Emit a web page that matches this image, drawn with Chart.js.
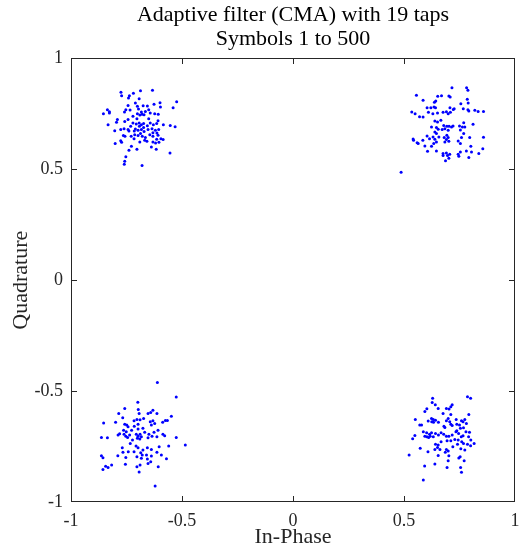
<!DOCTYPE html>
<html>
<head>
<meta charset="utf-8">
<script src="https://cdn.jsdelivr.net/npm/chart.js@4.4.1/dist/chart.umd.min.js"></script>
<style>
  html, body { margin: 0; padding: 0; background: #fff; }
  #wrap { width: 519px; height: 552px; }
</style>
</head>
<body>
<div id="wrap"><canvas id="scatter" width="519" height="552"></canvas></div>
<script>
// received symbols after the CMA equaliser (I, Q)
const upperLeft = [
    [-0.775,0.847],[-0.772,0.832],[-0.737,0.832],[-0.741,0.821],[-0.719,0.843],
    [-0.687,0.854],[-0.633,0.856],[-0.693,0.818],[-0.599,0.800],[-0.524,0.805],
    [-0.540,0.778],[-0.597,0.781],[-0.626,0.793],[-0.656,0.785],[-0.675,0.787],
    [-0.710,0.799],[-0.701,0.784],[-0.696,0.772],[-0.743,0.788],[-0.753,0.769],
    [-0.759,0.758],[-0.836,0.769],[-0.827,0.760],[-0.854,0.751],[-0.827,0.754],
    [-0.701,0.751],[-0.690,0.745],[-0.680,0.748],[-0.671,0.746],[-0.683,0.758],
    [-0.643,0.754],[-0.623,0.751],[-0.607,0.748],[-0.665,0.761],[-0.650,0.769],
    [-0.703,0.728],[-0.743,0.724],[-0.791,0.725],[-0.795,0.712],[-0.758,0.715],
    [-0.833,0.701],[-0.721,0.709],[-0.706,0.704],[-0.693,0.709],[-0.683,0.701],
    [-0.673,0.706],[-0.692,0.694],[-0.656,0.696],[-0.643,0.709],[-0.629,0.701],
    [-0.614,0.707],[-0.584,0.701],[-0.553,0.698],[-0.531,0.692],[-0.803,0.674],
    [-0.776,0.680],[-0.761,0.683],[-0.743,0.680],[-0.739,0.673],[-0.731,0.694],
    [-0.710,0.682],[-0.698,0.676],[-0.683,0.679],[-0.671,0.670],[-0.653,0.679],
    [-0.635,0.683],[-0.620,0.676],[-0.605,0.680],[-0.631,0.665],[-0.613,0.664],
    [-0.713,0.656],[-0.698,0.652],[-0.687,0.661],[-0.679,0.649],[-0.665,0.643],
    [-0.645,0.656],[-0.631,0.649],[-0.608,0.653],[-0.595,0.638],[-0.585,0.634],
    [-0.764,0.652],[-0.757,0.649],[-0.729,0.649],[-0.776,0.629],[-0.772,0.622],
    [-0.801,0.616],[-0.690,0.623],[-0.668,0.631],[-0.631,0.623],[-0.619,0.619],
    [-0.604,0.622],[-0.728,0.604],[-0.703,0.590],[-0.739,0.586],[-0.638,0.601],
    [-0.616,0.590],[-0.554,0.574],[-0.753,0.557],[-0.758,0.536],[-0.760,0.523],
    [-0.680,0.517],[-0.716,0.638],[-0.658,0.626],[-0.614,0.635],[-0.673,0.688],
    [-0.715,0.673],[-0.608,0.719],[-0.734,0.767],[-0.721,0.739],[-0.650,0.728],
];
const upperRight = [
    [0.716,0.868],[0.782,0.868],[0.788,0.856],[0.556,0.834],[0.586,0.811],
    [0.652,0.829],[0.669,0.832],[0.702,0.831],[0.708,0.826],[0.785,0.816],
    [0.643,0.808],[0.637,0.802],[0.756,0.796],[0.789,0.799],[0.604,0.778],
    [0.621,0.778],[0.635,0.781],[0.642,0.778],[0.707,0.777],[0.722,0.770],
    [0.726,0.773],[0.767,0.773],[0.788,0.769],[0.792,0.763],[0.819,0.766],
    [0.834,0.761],[0.858,0.761],[0.535,0.758],[0.550,0.751],[0.610,0.757],
    [0.630,0.751],[0.651,0.754],[0.676,0.757],[0.691,0.760],[0.699,0.751],
    [0.709,0.757],[0.570,0.737],[0.586,0.736],[0.639,0.718],[0.651,0.713],
    [0.624,0.691],[0.646,0.688],[0.679,0.697],[0.693,0.694],[0.703,0.694],
    [0.714,0.691],[0.721,0.695],[0.750,0.695],[0.763,0.691],[0.774,0.691],
    [0.811,0.703],[0.654,0.681],[0.684,0.683],[0.699,0.676],[0.754,0.677],
    [0.639,0.668],[0.646,0.661],[0.604,0.650],[0.769,0.661],[0.541,0.637],
    [0.543,0.631],[0.559,0.620],[0.564,0.616],[0.585,0.631],[0.615,0.638],
    [0.631,0.646],[0.639,0.635],[0.646,0.623],[0.634,0.616],[0.681,0.643],
    [0.691,0.634],[0.699,0.643],[0.684,0.623],[0.702,0.626],[0.693,0.653],
    [0.744,0.628],[0.759,0.643],[0.796,0.643],[0.858,0.644],[0.754,0.616],
    [0.624,0.604],[0.594,0.605],[0.606,0.581],[0.646,0.583],[0.676,0.571],
    [0.691,0.574],[0.696,0.562],[0.676,0.562],[0.706,0.568],[0.744,0.568],
    [0.754,0.578],[0.781,0.583],[0.804,0.578],[0.801,0.604],[0.855,0.593],
    [0.837,0.571],[0.792,0.553],[0.747,0.559],[0.702,0.550],[0.687,0.538],
    [0.487,0.487],[0.666,0.721],[0.769,0.710],[0.657,0.646],[0.672,0.679],
];
const lowerLeft = [
    [-0.611,-0.461],[-0.526,-0.527],[-0.699,-0.550],[-0.758,-0.578],[-0.697,-0.583],
    [-0.693,-0.601],[-0.785,-0.601],[-0.653,-0.601],[-0.641,-0.596],[-0.631,-0.586],
    [-0.613,-0.601],[-0.548,-0.613],[-0.767,-0.620],[-0.716,-0.634],[-0.703,-0.628],
    [-0.689,-0.629],[-0.673,-0.623],[-0.643,-0.638],[-0.631,-0.634],[-0.623,-0.646],
    [-0.587,-0.641],[-0.575,-0.632],[-0.566,-0.632],[-0.853,-0.644],[-0.799,-0.641],
    [-0.758,-0.649],[-0.749,-0.653],[-0.743,-0.661],[-0.698,-0.650],[-0.638,-0.653],
    [-0.608,-0.676],[-0.763,-0.676],[-0.751,-0.683],[-0.727,-0.676],[-0.698,-0.671],
    [-0.788,-0.698],[-0.781,-0.692],[-0.761,-0.695],[-0.753,-0.703],[-0.745,-0.709],
    [-0.736,-0.698],[-0.706,-0.694],[-0.698,-0.703],[-0.689,-0.695],[-0.683,-0.706],
    [-0.668,-0.686],[-0.649,-0.695],[-0.635,-0.703],[-0.626,-0.686],[-0.613,-0.706],
    [-0.586,-0.695],[-0.578,-0.701],[-0.863,-0.709],[-0.836,-0.710],[-0.526,-0.709],
    [-0.701,-0.713],[-0.690,-0.716],[-0.653,-0.710],[-0.723,-0.721],[-0.733,-0.736],
    [-0.769,-0.755],[-0.742,-0.773],[-0.707,-0.748],[-0.698,-0.755],[-0.676,-0.766],
    [-0.656,-0.755],[-0.638,-0.763],[-0.603,-0.751],[-0.560,-0.748],[-0.485,-0.743],
    [-0.766,-0.776],[-0.716,-0.773],[-0.686,-0.778],[-0.660,-0.788],[-0.638,-0.793],
    [-0.613,-0.776],[-0.593,-0.788],[-0.789,-0.791],[-0.753,-0.799],[-0.863,-0.791],
    [-0.856,-0.800],[-0.570,-0.805],[-0.703,-0.796],[-0.683,-0.803],[-0.656,-0.806],
    [-0.641,-0.818],[-0.817,-0.833],[-0.844,-0.839],[-0.856,-0.853],[-0.833,-0.845],
    [-0.755,-0.830],[-0.703,-0.841],[-0.689,-0.833],[-0.653,-0.826],[-0.607,-0.841],
    [-0.693,-0.865],[-0.621,-0.928],[-0.679,-0.788],[-0.715,-0.658],[-0.676,-0.668],
];
const lowerRight = [
    [0.629,-0.532],[0.786,-0.526],[0.800,-0.532],[0.627,-0.551],[0.641,-0.562],
    [0.717,-0.562],[0.711,-0.571],[0.603,-0.580],[0.654,-0.578],[0.691,-0.578],
    [0.703,-0.581],[0.594,-0.592],[0.676,-0.601],[0.711,-0.605],[0.792,-0.605],
    [0.551,-0.628],[0.624,-0.623],[0.632,-0.628],[0.642,-0.631],[0.625,-0.638],
    [0.633,-0.641],[0.609,-0.635],[0.655,-0.641],[0.691,-0.634],[0.699,-0.623],
    [0.706,-0.638],[0.735,-0.628],[0.759,-0.634],[0.766,-0.638],[0.774,-0.628],
    [0.781,-0.646],[0.571,-0.653],[0.579,-0.653],[0.711,-0.650],[0.717,-0.655],
    [0.738,-0.650],[0.750,-0.653],[0.680,-0.658],[0.684,-0.664],[0.754,-0.668],
    [0.768,-0.665],[0.587,-0.683],[0.602,-0.688],[0.615,-0.695],[0.624,-0.688],
    [0.549,-0.700],[0.539,-0.715],[0.594,-0.703],[0.603,-0.706],[0.611,-0.709],
    [0.618,-0.703],[0.632,-0.706],[0.642,-0.691],[0.655,-0.698],[0.667,-0.688],
    [0.679,-0.694],[0.691,-0.703],[0.702,-0.703],[0.717,-0.698],[0.734,-0.683],
    [0.738,-0.679],[0.746,-0.691],[0.758,-0.706],[0.766,-0.701],[0.779,-0.683],
    [0.795,-0.686],[0.791,-0.706],[0.694,-0.724],[0.711,-0.724],[0.729,-0.718],
    [0.744,-0.721],[0.760,-0.728],[0.768,-0.736],[0.786,-0.740],[0.741,-0.740],
    [0.816,-0.736],[0.800,-0.746],[0.642,-0.740],[0.654,-0.743],[0.651,-0.754],
    [0.639,-0.763],[0.662,-0.763],[0.691,-0.763],[0.699,-0.770],[0.686,-0.776],
    [0.720,-0.751],[0.756,-0.760],[0.774,-0.766],[0.573,-0.758],[0.608,-0.773],
    [0.654,-0.790],[0.523,-0.788],[0.702,-0.791],[0.699,-0.814],[0.747,-0.802],
    [0.753,-0.796],[0.771,-0.814],[0.639,-0.829],[0.593,-0.838],[0.694,-0.845],
    [0.755,-0.845],[0.759,-0.866],[0.587,-0.901],[0.667,-0.728],[0.801,-0.721],
];

const tickValues = [-1, -0.5, 0, 0.5, 1];
const tickLabels = ['-1', '-0.5', '0', '0.5', '1'];
const titleLines = ['Adaptive filter (CMA) with 19 taps', 'Symbols 1 to 500'];

const SERIF = "'Liberation Serif', 'Times New Roman', serif";
const INK = '#262626';
const TICK = 5;

// matlab style box with inward ticks on all four sides, sized from the scales
const axesBox = {
    id: 'axesBox',
    afterDraw(chart) {
        const { ctx, scales: { x, y } } = chart;
        const L = Math.round(x.getPixelForValue(-1)), R = Math.round(x.getPixelForValue(1));
        const T = Math.round(y.getPixelForValue(1)), B = Math.round(y.getPixelForValue(-1));
        const W = R - L, H = B - T;
        ctx.save();
        ctx.fillStyle = INK;
        ctx.fillRect(L, T, W, 1);
        ctx.fillRect(L, B - 1, W, 1);
        ctx.fillRect(L, T, 1, H);
        ctx.fillRect(R - 1, T, 1, H);
        tickValues.forEach(v => {
            const px = Math.min(Math.round(x.getPixelForValue(v)), R - 1);
            ctx.fillRect(px, B - 1 - TICK, 1, TICK);
            ctx.fillRect(px, T + 1, 1, TICK);
            const py = Math.min(Math.round(y.getPixelForValue(v)), B - 1);
            ctx.fillRect(L + 1, py, TICK, 1);
            ctx.fillRect(R - 1 - TICK, py, TICK, 1);
        });
        ctx.restore();
    },
};

function axis(label, fit, titlePad) {
    return {
        type: 'linear',
        min: -1,
        max: 1,
        afterBuildTicks: s => { s.ticks = tickValues.map(value => ({ value })); },
        afterFit: s => {
            fit(s);
            // let the end labels hang over the box edge like matlab does
            s.paddingLeft = s.paddingRight = s.paddingTop = s.paddingBottom = 0;
        },
        grid: { display: false, drawTicks: false },
        border: { display: false },
        ticks: {
            color: INK,
            font: { family: SERIF, size: 18 },
            padding: 8,
            autoSkip: false,
            maxRotation: 0,
            callback: (v, i) => tickLabels[i],
        },
        title: {
            display: true,
            text: label,
            color: INK,
            font: { family: SERIF, size: 22 },
            padding: titlePad,
        },
    };
}

const pts = arr => arr.map(([x, y]) => ({ x, y }));

new Chart(document.getElementById('scatter'), {
    type: 'scatter',
    data: {
        datasets: [upperLeft, upperRight, lowerLeft, lowerRight].map(d => ({
            data: pts(d),
            pointRadius: 1.5,
            pointBorderWidth: 0,
            backgroundColor: '#0000ff',
            borderColor: '#0000ff',
        })),
    },
    options: {
        responsive: false,
        animation: false,
        layout: { padding: { left: 0, right: 1, top: 0, bottom: 0 } },
        plugins: {
            legend: { display: false },
            tooltip: { enabled: false },
            title: {
                display: true,
                text: titleLines,
                fullSize: false,
                color: '#000',
                font: { family: SERIF, size: 22, weight: 'normal', lineHeight: 1.1 },
                padding: { top: 3, bottom: 7 },
            },
        },
        scales: {
            x: axis('In-Phase', s => { s.height = 50; }, { top: 0, bottom: 2 }),
            y: axis('Quadrature', s => { s.width = 71; }, { top: 8, bottom: 0 }),
        },
    },
    plugins: [axesBox],
});
</script>
</body>
</html>
